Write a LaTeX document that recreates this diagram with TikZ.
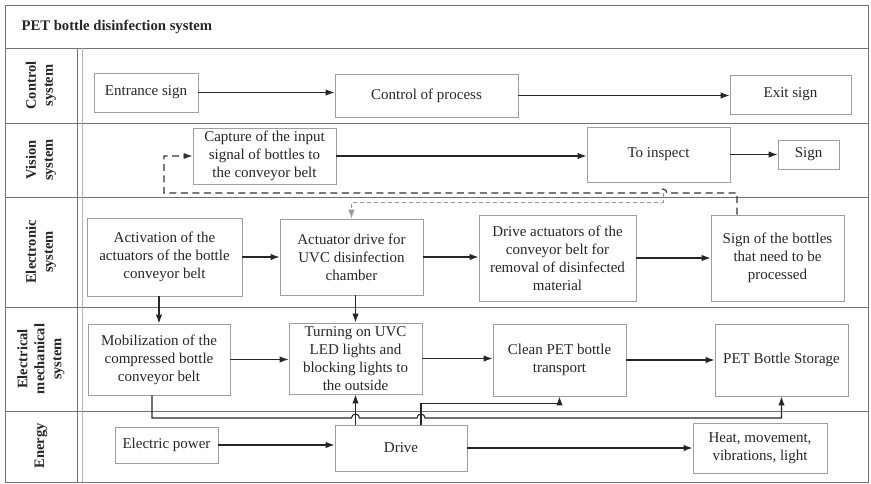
\documentclass[tikz,border=0pt]{standalone}
\usepackage{fontspec}
\setmainfont{Liberation Serif}
\usetikzlibrary{arrows.meta}
\begin{document}
\begin{tikzpicture}[x=1pt,y=-1pt,
  box/.style={draw=black!38,line width=\bxlw,rectangle,align=center,inner sep=1pt,
    text=black!85,font=\fontsize{15}{18}\selectfont},
  sz/.style 2 args={minimum width=#1pt,minimum height=#2pt},
  lane/.style={draw=black!55,line width=1pt},
  lanelbl/.style={rotate=90,align=center,text=black!85,
    font=\bfseries\fontsize{14.5}{17}\selectfont},
  arr/.style={-{Latex[length=9pt,width=6.5pt]},line width=1.1pt,draw=black!85},
  dsh/.style={dash pattern=on 7pt off 4.5pt,line width=1.1pt}]
% swimlane frame, pixel units of the 871x483 sheet
\ifx\bxlw\undefined\newdimen\bxlw\fi
\bxlw=0.9pt
\useasboundingbox (0,0) rectangle (871,483);
\draw[lane] (5,5) rectangle (868,482);
\foreach \yy in {48,123,197,307,411}
  \draw[lane] (5,\yy) -- (868,\yy);
\draw[lane] (77,48) -- (77,482);
\draw[lane,draw=black!30] (82,48) -- (82,482);
\node[anchor=west,text=black!85,font=\bfseries\fontsize{14.7}{17}\selectfont] (ttl) at (18,27) {PET bottle disinfection system};
\node[lanelbl] (lcs) at (41,85.5) {Control\\system};
\node[lanelbl] (lvs) at (41,160) {Vision\\system};
\node[lanelbl] (les) at (41,252) {Electronic\\system};
\node[lanelbl] (lem) at (41,359) {Electrical\\mechanical\\system};
\node[lanelbl] (len) at (41,446) {Energy};
% boxes
\node[box,sz={104}{39}] (entr) at (146,92.5) {Entrance sign};
\node[box,sz={183}{43}] (ctrl) at (426.5,95.5) {Control of process};
\node[box,sz={121}{39}] (exit) at (790.5,94.5) {Exit sign};
\node[box,sz={143}{56}] (capt) at (264.5,156) {Capture of the input\\signal of bottles to\\the conveyor belt};
\node[box,sz={143}{55}] (insp) at (658.5,154.5) {To inspect};
\node[box,sz={61}{29}] (sgn) at (808.5,154.5) {Sign};
\node[box,sz={155}{78}] (activ) at (164.5,257) {Activation of the\\actuators of the bottle\\conveyor belt};
\node[box,sz={143}{76}] (actu) at (351.5,257) {Actuator drive for\\UVC disinfection\\chamber};
\node[box,sz={157}{86}] (drvact) at (557.5,258) {Drive actuators of the\\conveyor belt for\\removal of disinfected\\material};
\node[box,sz={133}{86}] (signb) at (777.5,258) {Sign of the bottles\\that need to be\\processed};
\node[box,sz={142}{71}] (mobil) at (159,359.5) {Mobilization of the\\compressed bottle\\conveyor belt};
\node[box,sz={133}{71}] (uvc) at (355.5,358.5) {Turning on UVC\\LED lights and\\blocking lights to\\the outside};
\node[box,sz={133}{72}] (clean) at (559.5,360) {Clean PET bottle\\transport};
\node[box,sz={133}{72}] (store) at (781.5,360) {PET Bottle Storage};
\node[box,sz={103}{36}] (power) at (166.5,445) {Electric power};
\node[box,sz={132}{46}] (drive) at (401,448) {Drive};
\node[box,sz={134}{50}] (heat) at (760,448) {Heat, movement,\\vibrations, light};
% flow
\draw[arr] (entr.east) -- (entr.east -| ctrl.west);
\draw[arr] (ctrl.east) -- (ctrl.east -| exit.west);
\draw[arr] (capt.east) -- (capt.east -| insp.west);
\draw[arr] (insp.east) -- (insp.east -| sgn.west);
\draw[arr] (activ.east) -- (activ.east -| actu.west);
\draw[arr] (actu.east) -- (actu.east -| drvact.west);
\draw[arr] (drvact.east) -- (drvact.east -| signb.west);
\draw[arr] (mobil.east) -- (mobil.east -| uvc.west);
\draw[arr] (uvc.east) -- (uvc.east -| clean.west);
\draw[arr] (clean.east) -- (clean.east -| store.west);
\draw[arr] (power.east) -- (power.east -| drive.west);
\draw[arr] (drive.east) -- (drive.east -| heat.west);
\draw[arr] (activ.south -| mobil) -- (mobil.north);
\draw[arr] (actu.south -| uvc) -- (uvc.north);
% feedback of the bottle sign, dashed
\coordinate (fb) at (663,193);
\draw[dsh,arr,draw=black!80] ([xshift=-40.5pt]signb.north) |- (667,193) arc (360:180:4)
  -- (164,193) |- (capt.west);
\draw[dsh,arr,draw=black!40,dash pattern=on 4pt off 3pt,line width=0.9pt] (fb) -- (663,202) -| (actu.north);
% energy feed, with jumps
\draw[arr] ([xshift=-7pt]mobil.south) |- (351.5,418) arc (180:360:4)
  -- (417,418) arc (180:360:4) -| (store.south);
\draw[arr] (drive.north -| uvc) -- (uvc.south);
\draw[arr] ([xshift=20pt]drive.north) |- ([yshift=-7pt]clean.south) -- (clean.south);
\end{tikzpicture}
\end{document}
